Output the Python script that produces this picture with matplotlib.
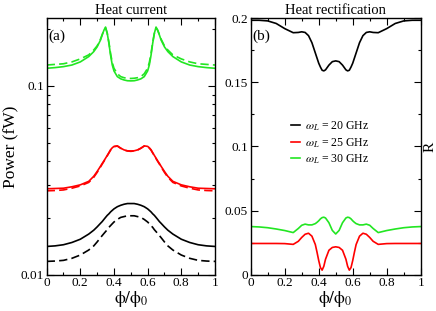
import matplotlib
matplotlib.use("Agg")
import matplotlib.pyplot as plt
from matplotlib.ticker import MultipleLocator, LogLocator, NullFormatter, FixedLocator

plt.rcParams['font.family'] = ['Liberation Serif', 'DejaVu Serif']
plt.rcParams['mathtext.fontset'] = 'stix'

# ---- panel (a): heat current, log scale ----
phi_a = [0, 0.05, 0.1, 0.15, 0.2, 0.25, 0.28, 0.3, 0.32, 0.33, 0.34, 0.35, 0.36, 0.37,
         0.38, 0.39, 0.4, 0.42, 0.44, 0.46, 0.48, 0.5, 0.52, 0.54, 0.56, 0.58, 0.6,
         0.61, 0.62, 0.63, 0.64, 0.65, 0.66, 0.67, 0.68, 0.7, 0.72, 0.75, 0.8, 0.85,
         0.9, 0.95, 1.0]

green_solid = [0.124, 0.125, 0.1265, 0.129, 0.134, 0.143, 0.152, 0.161, 0.175, 0.186,
               0.197, 0.205, 0.19, 0.168, 0.145, 0.129, 0.12, 0.112, 0.109, 0.1075,
               0.1065, 0.1063, 0.1065, 0.1075, 0.109, 0.112, 0.12, 0.129, 0.145, 0.168,
               0.19, 0.205, 0.197, 0.186, 0.175, 0.161, 0.152, 0.143, 0.134, 0.129,
               0.1265, 0.125, 0.124]
green_dash = [0.129, 0.130, 0.131, 0.134, 0.139, 0.146, 0.155, 0.163, 0.177, 0.187,
              0.197, 0.203, 0.19, 0.17, 0.148, 0.133, 0.124, 0.116, 0.112, 0.1105,
              0.1098, 0.1095, 0.1098, 0.1105, 0.112, 0.116, 0.124, 0.133, 0.148, 0.17,
              0.19, 0.203, 0.197, 0.187, 0.177, 0.163, 0.155, 0.146, 0.139, 0.134,
              0.131, 0.130, 0.129]
red_solid = [0.0285, 0.0286, 0.0287, 0.0292, 0.0299, 0.0312, 0.0332, 0.0352, 0.0375,
             0.0388, 0.040, 0.0414, 0.0428, 0.0443, 0.0459, 0.047, 0.0478, 0.0481,
             0.0468, 0.0458, 0.0453, 0.0452, 0.0453, 0.0458, 0.0468, 0.0481, 0.0478,
             0.047, 0.0459, 0.0443, 0.0428, 0.0414, 0.040, 0.0388, 0.0375, 0.0352,
             0.0332, 0.0312, 0.0299, 0.0292, 0.0287, 0.0286, 0.0285]
red_dash = [0.0278, 0.0279, 0.0281, 0.0287, 0.0295, 0.0308, 0.0328, 0.0348, 0.0372,
            0.0385, 0.0398, 0.0412, 0.0426, 0.0441, 0.0457, 0.0468, 0.0476, 0.048,
            0.0467, 0.0457, 0.0452, 0.045, 0.0452, 0.0457, 0.0467, 0.048, 0.0476,
            0.0468, 0.0457, 0.0441, 0.0426, 0.0412, 0.0398, 0.0385, 0.0372, 0.0348,
            0.0328, 0.0308, 0.0295, 0.0287, 0.0281, 0.0279, 0.0278]
black_solid = [0.0141, 0.0142, 0.0144, 0.0148, 0.0154, 0.0164, 0.0172, 0.0179, 0.0187,
               0.0191, 0.0196, 0.0201, 0.0206, 0.0210, 0.0215, 0.0219, 0.0223, 0.0229,
               0.0233, 0.0236, 0.0238, 0.0238, 0.0238, 0.0236, 0.0233, 0.0229, 0.0223,
               0.0219, 0.0215, 0.0210, 0.0206, 0.0201, 0.0196, 0.0191, 0.0187, 0.0179,
               0.0172, 0.0164, 0.0154, 0.0148, 0.0144, 0.0142, 0.0141]
black_dash = [0.01175, 0.0118, 0.0119, 0.0122, 0.0127, 0.0135, 0.0142, 0.0149, 0.0157,
              0.0161, 0.0165, 0.0169, 0.0173, 0.0178, 0.0182, 0.0186, 0.0190, 0.0196,
              0.0201, 0.0203, 0.0205, 0.0205, 0.0205, 0.0203, 0.0201, 0.0196, 0.0190,
              0.0186, 0.0182, 0.0178, 0.0173, 0.0169, 0.0165, 0.0161, 0.0157, 0.0149,
              0.0142, 0.0135, 0.0127, 0.0122, 0.0119, 0.0118, 0.01175]

# ---- panel (b): rectification ----
phi_b = [0, 0.05, 0.1, 0.15, 0.2, 0.25, 0.28, 0.3, 0.32, 0.34, 0.36, 0.38, 0.39, 0.4,
         0.41, 0.42, 0.43, 0.44, 0.46, 0.48, 0.5, 0.52, 0.54, 0.56, 0.57, 0.58, 0.59,
         0.6, 0.61, 0.62, 0.64, 0.66, 0.68, 0.7, 0.72, 0.75, 0.8, 0.85, 0.9, 0.95, 1.0]

R_20 = [0.1985, 0.1985, 0.198, 0.196, 0.192, 0.1888, 0.189, 0.1895, 0.189, 0.1865,
        0.181, 0.173, 0.169, 0.165, 0.162, 0.1595, 0.159, 0.1598, 0.1635, 0.1662,
        0.1668, 0.1662, 0.1635, 0.1598, 0.159, 0.1595, 0.162, 0.165, 0.169, 0.173,
        0.181, 0.1865, 0.189, 0.1895, 0.189, 0.1888, 0.192, 0.196, 0.198, 0.1985,
        0.1985]
R_25 = [0.0243, 0.0243, 0.0243, 0.0243, 0.0242, 0.0236, 0.026, 0.029, 0.0315, 0.0323,
        0.030, 0.0235, 0.0175, 0.011, 0.0055, 0.0035, 0.0065, 0.012, 0.019, 0.0212,
        0.0217, 0.0212, 0.019, 0.012, 0.0065, 0.0035, 0.0055, 0.011, 0.0175, 0.0235,
        0.030, 0.0323, 0.0315, 0.029, 0.026, 0.0236, 0.0242, 0.0243, 0.0243, 0.0243,
        0.0243]
R_30 = [0.0375, 0.0372, 0.0366, 0.0356, 0.0344, 0.0328, 0.036, 0.0385, 0.0394, 0.0388,
        0.0388, 0.0398, 0.0408, 0.042, 0.0435, 0.0445, 0.0448, 0.0442, 0.0405, 0.0345,
        0.0317, 0.0345, 0.0405, 0.0442, 0.0448, 0.0445, 0.0435, 0.042, 0.0408, 0.0398,
        0.0388, 0.0388, 0.0394, 0.0385, 0.036, 0.0328, 0.0344, 0.0356, 0.0366, 0.0372,
        0.0375]

GREEN = '#22e622'
RED = '#ff0000'
lw = 1.2
DASH = (0, (5, 2.5))
XLAB = r'$\mathrm{\phi/\phi_0}$'

fig = plt.figure(figsize=(4.36, 3.11), dpi=100)
ax1 = fig.add_axes([0.107, 0.117, 0.386, 0.824])
ax2 = fig.add_axes([0.575, 0.117, 0.390, 0.824])

ax1.plot(phi_a, green_solid, color=GREEN, lw=lw)
ax1.plot(phi_a, green_dash, color=GREEN, lw=lw, ls=DASH)
ax1.plot(phi_a, red_solid, color=RED, lw=lw)
ax1.plot(phi_a, red_dash, color=RED, lw=lw, ls=DASH)
ax1.plot(phi_a, black_solid, color='black', lw=lw)
ax1.plot(phi_a, black_dash, color='black', lw=lw, ls=DASH)
ax1.set_yscale('log')
ax1.set_ylim(0.01, 0.228)
ax1.set_xlim(0, 1)
ax1.yaxis.set_major_locator(FixedLocator([0.01, 0.1]))
ax1.yaxis.set_major_formatter(plt.FixedFormatter(['0.01', '0.1']))
ax1.yaxis.set_minor_locator(LogLocator(base=10, subs=range(2, 10)))
ax1.yaxis.set_minor_formatter(NullFormatter())
ax1.set_ylabel('Power (fW)', fontsize=12.5, labelpad=1)
ax1.set_title('Heat current', fontsize=10.5, pad=3)
ax1.text(0.012, 0.955, '(a)', transform=ax1.transAxes, fontsize=11, va='top')

ax2.plot(phi_b, R_20, color='black', lw=lw, label=r'$\omega_L$ = 20 GHz')
ax2.plot(phi_b, R_25, color=RED, lw=lw, label=r'$\omega_L$ = 25 GHz')
ax2.plot(phi_b, R_30, color=GREEN, lw=lw, label=r'$\omega_L$ = 30 GHz')
ax2.set_xlim(0, 1)
ax2.set_ylim(0, 0.2)
ax2.yaxis.set_minor_locator(MultipleLocator(0.025))
ax2.yaxis.set_major_locator(FixedLocator([0, 0.05, 0.1, 0.15, 0.2]))
ax2.yaxis.set_major_formatter(plt.FixedFormatter(['0', '0.05', '0.1', '0.15', '0.2']))
ax2.set_title('Heat rectification', fontsize=10.5, pad=3)
ax2.text(0.01, 0.955, '(b)', transform=ax2.transAxes, fontsize=11, va='top')
ax2.text(1.018, 0.5, 'R', transform=ax2.transAxes, fontsize=11, rotation=90,
         va='center', ha='left')
ax2.legend(loc='upper left', bbox_to_anchor=(0.235, 0.605), frameon=False, fontsize=8.5,
           handlelength=0.8, handletextpad=0.4, labelspacing=0.25,
           borderpad=0, borderaxespad=0)

for ax in (ax1, ax2):
    ax.xaxis.set_minor_locator(MultipleLocator(0.1))
    ax.xaxis.set_major_locator(FixedLocator([0, 0.2, 0.4, 0.6, 0.8, 1.0]))
    ax.xaxis.set_major_formatter(plt.FixedFormatter(['0', '0.2', '0.4', '0.6', '0.8', '1']))
    ax.set_xlabel(XLAB, fontsize=12.5, labelpad=0)
    ax.tick_params(which='both', direction='in', top=True, right=True, labelsize=9.5, pad=2)
    ax.tick_params(which='major', length=5, width=0.8)
    ax.tick_params(which='minor', length=2.5, width=0.8)
    for s in ax.spines.values():
        s.set_linewidth(1.0)

fig.savefig('out.png', dpi=100)
